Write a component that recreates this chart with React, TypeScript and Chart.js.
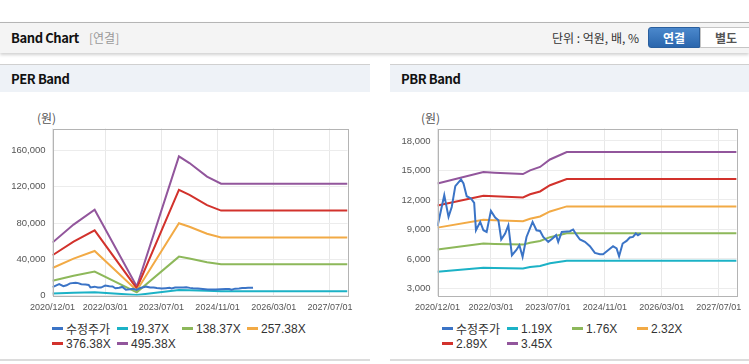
import React, { useEffect, useRef } from "react";
import { Chart, registerables } from "chart.js";
Chart.register(...registerables);

// ---------- data ----------
const TICK_LABELS = ["2020/12/01", "2022/03/01", "2023/07/01", "2024/11/01", "2026/03/01", "2027/07/01"];
const AXIS_END_MONTH = 84; // months after 2020/12

// adjusted stock price (수정주가) – months after 2020/12
const PRICE_MONTHS = [0, 1.9, 3.1, 4.0, 5.0, 6.6, 7.3, 8.2, 9.4, 10.3, 10.8, 12.0, 12.9, 13.8, 15.0, 16.2, 17.1, 17.9, 19.0, 19.9, 20.9, 22.1, 23.0, 23.9, 25.0, 26.7, 27.8, 28.8, 29.7, 31.1, 32.3, 33.3, 33.9, 34.9, 37.2, 38.1, 39.1, 40.0, 41.4, 42.8, 44.2, 45.6, 46.5, 47.9, 49.3, 50.3, 51.0, 52.0, 53.1, 54.0, 54.9, 55.7, 56.3, 57.1];
const PRICE_VALUES = [9330, 12480, 10280, 11290, 13400, 14080, 13670, 12380, 12150, 11700, 8920, 9770, 8920, 8750, 10890, 10220, 9940, 7980, 8590, 9430, 6380, 6890, 7400, 6210, 8240, 9770, 8920, 8850, 8240, 7740, 8080, 8420, 7740, 8750, 8820, 9000, 8420, 7980, 7740, 7300, 6620, 6490, 6490, 6890, 7300, 7070, 6280, 7570, 7840, 8180, 8240, 8590, 8420, 8590];

// PER band
const PER_MONTHS = [0, 6, 12, 24, 36, 39, 44, 48, 84];
const PER_19 = [2286, 3060, 3700, 600, 6005, 5714, 5133, 4823, 4823];
const PER_138 = [16328, 21862, 26429, 3500, 42895, 40819, 36668, 34454, 34454];
const PER_257 = [30371, 40666, 49160, 5600, 79788, 75927, 68206, 64088, 64088];
const PER_376 = [44413, 59468, 71889, 7800, 116678, 111032, 99741, 93719, 93719];
const PER_495 = [58455, 78270, 94618, 10000, 153568, 146137, 131276, 123350, 123350];
const PER_TICKS = [0, 40000, 80000, 120000, 160000];
const PER_LABELS = ["수정주가", "19.37X", "138.37X", "257.38X", "376.38X", "495.38X"];

// PBR band
const PBR_MONTHS = [0, 12.9, 16, 24, 26, 28.8, 31.6, 36.3, 84];
const PBR_119 = [4712, 5117, 5093, 5046, 5177, 5296, 5557, 5819, 5819];
const PBR_176 = [6970, 7568, 7533, 7462, 7656, 7832, 8219, 8606, 8606];
const PBR_232 = [9187, 9976, 9930, 9837, 10092, 10324, 10834, 11345, 11345];
const PBR_289 = [11444, 12427, 12369, 12254, 12572, 12861, 13496, 14132, 14132];
const PBR_345 = [13662, 14835, 14766, 14628, 15008, 15353, 16112, 16871, 16871];
const PBR_TICKS = [3000, 6000, 9000, 12000, 15000, 18000];
const PBR_LABELS = ["수정주가", "1.19X", "1.76X", "2.32X", "2.89X", "3.45X"];

const COLORS = ["#3b74c6", "#1cb2c6", "#8db85a", "#f2aa45", "#d2322c", "#92569c"];

// ---------- helpers ----------
const labelToMonth = (s: string) => {
  const [y, m] = s.split("/").map(Number);
  return (y - 2020) * 12 + (m - 12);
};
const TICK_MONTHS = TICK_LABELS.map(labelToMonth);
const pts = (xs: number[], ys: number[]) => xs.map((x, i) => ({ x, y: ys[i] }));

const AXIS_FONT = "'Liberation Sans', Arial, sans-serif";
const TOP = 110;
const CH = 210;
const PLOT_TOP = 128.5;
const PLOT_BOTTOM = 295.5;

const frame = {
  id: "frame",
  afterDraw(chart: any) {
    const { ctx, chartArea: a } = chart;
    ctx.save();
    ctx.strokeStyle = "#b4b4b4";
    ctx.lineWidth = 1;
    ctx.strokeRect(Math.round(a.left) + 0.5, Math.round(a.top) + 0.5, Math.round(a.right - a.left), Math.round(a.bottom - a.top));
    ctx.restore();
  },
};

type BandProps = {
  left: number;
  width: number;
  plotLeft: number;
  plotRight: number;
  yMin: number;
  yMax: number;
  yTicks: number[];
  bandMonths: number[];
  bands: number[][];
  labels: string[];
  legendLeft: number;
};

function BandChart(p: BandProps) {
  const ref = useRef<HTMLCanvasElement>(null);
  useEffect(() => {
    const datasets = [
      { label: p.labels[0], data: pts(PRICE_MONTHS, PRICE_VALUES) },
      ...p.bands.map((b, i) => ({ label: p.labels[i + 1], data: pts(p.bandMonths, b) })),
    ].map((d, i) => ({
      ...d,
      borderColor: COLORS[i],
      backgroundColor: COLORS[i],
      borderWidth: 2,
      pointRadius: 0,
      tension: 0,
      fill: false,
    }));
    const chart = new Chart(ref.current!, {
      type: "line",
      data: { datasets },
      plugins: [frame],
      options: {
        animation: false,
        responsive: false,
        devicePixelRatio: 1,
        layout: { padding: { left: 0, right: p.width - p.plotRight, top: PLOT_TOP - TOP, bottom: 0 } },
        plugins: { legend: { display: false }, tooltip: { enabled: false } },
        scales: {
          x: {
            type: "linear",
            min: 0,
            max: AXIS_END_MONTH,
            afterBuildTicks: (ax: any) => {
              ax.ticks = TICK_MONTHS.map((v) => ({ value: v }));
            },
            afterFit: (ax: any) => {
              ax.height = CH - (PLOT_BOTTOM - TOP);
            },
            grid: { color: "#e8e8e8", drawTicks: false },
            border: { display: false },
            ticks: {
              autoSkip: false,
              maxRotation: 0,
              padding: 7,
              color: "#555",
              font: { family: AXIS_FONT, size: 9 },
              callback: (v: any) => TICK_LABELS[TICK_MONTHS.indexOf(Number(v))] ?? "",
            },
          },
          y: {
            type: "linear",
            min: p.yMin,
            max: p.yMax,
            afterBuildTicks: (ax: any) => {
              ax.ticks = p.yTicks.map((v) => ({ value: v }));
            },
            afterFit: (ax: any) => {
              ax.width = p.plotLeft - p.left;
            },
            grid: { color: "#ececec", drawTicks: false },
            border: { display: false },
            ticks: {
              padding: 7,
              color: "#555",
              font: { family: AXIS_FONT, size: 9.5 },
              callback: (v: any) => Number(v).toLocaleString("en-US"),
            },
          },
        },
      } as any,
    });
    return () => chart.destroy();
  }, []);

  const legendRows = [p.labels.slice(0, 4), p.labels.slice(4)];
  return (
    <>
      <canvas
        ref={ref}
        width={p.width}
        height={CH}
        style={{ position: "absolute", left: p.left, top: TOP, width: p.width, height: CH }}
      />
      {legendRows.map((row, r) =>
        row.map((lab, c) => {
          const idx = r * 4 + c;
          return (
            <div
              key={idx}
              style={{
                position: "absolute",
                left: p.legendLeft + c * 65,
                top: 321 + r * 15,
                height: 15,
                display: "flex",
                alignItems: "center",
                whiteSpace: "nowrap",
                fontSize: 12,
                color: "#333",
                fontFamily: "'Liberation Sans', 'Noto Sans CJK KR', sans-serif",
              }}
            >
              <span style={{ display: "inline-block", width: 11, height: 3, background: COLORS[idx], marginRight: 3 }} />
              <span>{lab}</span>
            </div>
          );
        })
      )}
    </>
  );
}

export default function App() {
  useEffect(() => {
    document.body.style.margin = "0";
  }, []);
  const panelHeader = (left: number, title: string) => (
    <div
      style={{
        position: "absolute",
        left,
        top: 64,
        width: 370,
        height: 297,
        borderTop: "1px solid #d0d0d0",
        borderBottom: "2px solid #dcdcdc",
        boxSizing: "border-box",
      }}
    >
      <div style={{ height: 27, background: "#eef2f7", display: "flex", alignItems: "center", paddingLeft: 11, fontWeight: 700, fontSize: 13, color: "#111", letterSpacing: -0.4 }}>
        {title}
      </div>
    </div>
  );
  return (
    <div style={{ position: "relative", width: 749, height: 364, overflow: "hidden", background: "#fff", fontFamily: "'Noto Sans CJK KR', sans-serif" }}>
      <div
        style={{
          position: "absolute",
          left: 0,
          top: 22,
          width: 749,
          height: 30,
          background: "#f4f4f4",
          borderTop: "1px solid #b5b5b5",
          boxShadow: "0 2px 3px rgba(0,0,0,0.18)",
        }}
      />
      <div style={{ position: "absolute", left: 11, top: 23, height: 30, lineHeight: "30px", fontWeight: 700, fontSize: 13, color: "#111", letterSpacing: -0.4 }}>
        Band Chart
      </div>
      <div style={{ position: "absolute", left: 89, top: 23, height: 30, lineHeight: "30px", fontSize: 12, color: "#999" }}>[연결]</div>
      <div style={{ position: "absolute", left: 552, top: 23, height: 30, lineHeight: "30px", fontSize: 12, color: "#333" }}>
        단위 : 억원, 배, %
      </div>
      <div
        style={{
          position: "absolute",
          left: 648,
          top: 27,
          width: 52,
          height: 21,
          boxSizing: "border-box",
          background: "linear-gradient(#4b88cc, #2a66ad)",
          border: "1px solid #2a5f9e",
          borderRadius: "3px 0 0 3px",
          color: "#fff",
          fontWeight: 700,
          fontSize: 12,
          lineHeight: "19px",
          textAlign: "center",
        }}
      >
        연결
      </div>
      <div
        style={{
          position: "absolute",
          left: 700,
          top: 27,
          width: 52,
          height: 21,
          boxSizing: "border-box",
          background: "#fff",
          border: "1px solid #c5c5c5",
          color: "#555",
          fontWeight: 700,
          fontSize: 12,
          lineHeight: "19px",
          textAlign: "center",
        }}
      >
        별도
      </div>

      {panelHeader(0, "PER Band")}
      {panelHeader(390, "PBR Band")}

      <div style={{ position: "absolute", left: 37, top: 110, fontSize: 12, color: "#555", lineHeight: "16px" }}>(원)</div>
      <div style={{ position: "absolute", left: 421, top: 110, fontSize: 12, color: "#555", lineHeight: "16px" }}>(원)</div>

      <BandChart
        left={0}
        width={370}
        plotLeft={52.5}
        plotRight={347.5}
        yMin={0}
        yMax={184300}
        yTicks={PER_TICKS}
        bandMonths={PER_MONTHS}
        bands={[PER_19, PER_138, PER_257, PER_376, PER_495]}
        labels={PER_LABELS}
        legendLeft={52}
      />
      <BandChart
        left={390}
        width={359}
        plotLeft={437.5}
        plotRight={347.5}
        yMin={2290}
        yMax={19260}
        yTicks={PBR_TICKS}
        bandMonths={PBR_MONTHS}
        bands={[PBR_119, PBR_176, PBR_232, PBR_289, PBR_345]}
        labels={PBR_LABELS}
        legendLeft={442}
      />
    </div>
  );
}
